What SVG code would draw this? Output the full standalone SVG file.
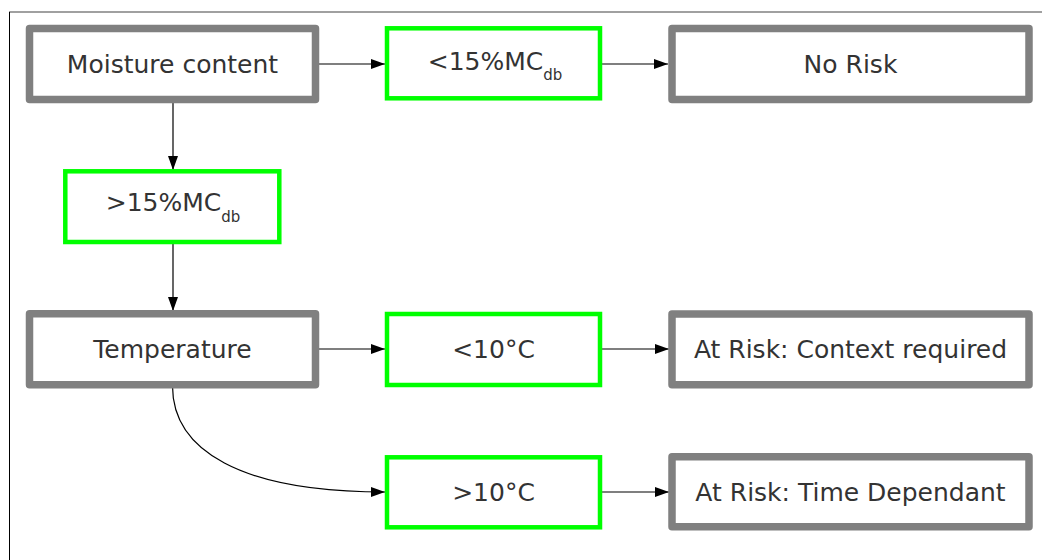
<svg xmlns="http://www.w3.org/2000/svg" width="1042" height="560" viewBox="0 0 1042 560">
<style>
.bg{fill:#ffffff}
.gray{fill:#ffffff;stroke:#808080;stroke-width:7.5;stroke-linejoin:round}
.green{fill:#ffffff;stroke:#00ff00;stroke-width:4.5}
.t{font-family:"DejaVu Sans",Verdana,sans-serif;font-size:25px;fill:#333333;text-anchor:middle}
.sub{font-size:15px}
.c{fill:none;stroke:#000000;stroke-width:1.2}
</style>
<defs>
<marker id="ah" markerUnits="userSpaceOnUse" markerWidth="14" markerHeight="11" refX="14" refY="5" orient="auto">
<path d="M0,0 L14,5 L0,10 z" fill="#000000"/>
</marker>
</defs>
<rect class="bg" x="0" y="0" width="1042" height="560"/>
<line x1="9" y1="12" x2="1042" y2="12" stroke="#808080" stroke-width="1.5"/>
<line x1="9.5" y1="12" x2="9.5" y2="560" stroke="#000000" stroke-width="1"/>
<g id="connectors">
<line class="c" x1="316" y1="64" x2="385" y2="64" marker-end="url(#ah)"/>
<line class="c" x1="602" y1="64" x2="668" y2="64" marker-end="url(#ah)"/>
<line class="c" x1="173" y1="100" x2="173" y2="170" marker-end="url(#ah)"/>
<line class="c" x1="173" y1="242" x2="173" y2="311" marker-end="url(#ah)"/>
<line class="c" x1="315" y1="349" x2="385" y2="349" marker-end="url(#ah)"/>
<line class="c" x1="601" y1="349" x2="669" y2="349" marker-end="url(#ah)"/>
<path class="c" d="M172.5,386 C172.5,450 240,492 385,492" marker-end="url(#ah)"/>
<line class="c" x1="601" y1="492" x2="669" y2="492" marker-end="url(#ah)"/>
</g>
<g id="moisture">
<rect class="gray" x="29.5" y="28.5" width="286" height="71"/>
<text class="t" x="172.5" y="73">Moisture content</text>
</g>
<g id="lt15">
<rect class="green" x="387" y="28.3" width="213" height="70"/>
<text class="t" x="495" y="69.5">&lt;15%MC<tspan class="sub" dy="10">db</tspan></text>
</g>
<g id="norisk">
<rect class="gray" x="672" y="28.5" width="357" height="71"/>
<text class="t" x="850.5" y="73">No Risk</text>
</g>
<g id="gt15">
<rect class="green" x="65.3" y="171.3" width="214" height="70.7"/>
<text class="t" x="173" y="210.5">&gt;15%MC<tspan class="sub" dy="11">db</tspan></text>
</g>
<g id="temperature">
<rect class="gray" x="29.5" y="313.8" width="286" height="71"/>
<text class="t" x="172.5" y="357.5">Temperature</text>
</g>
<g id="lt10">
<rect class="green" x="387" y="314" width="213" height="71"/>
<text class="t" x="493.5" y="358.3">&lt;10°C</text>
</g>
<g id="context">
<rect class="gray" x="672" y="314" width="357" height="70.7"/>
<text class="t" x="850.5" y="357.5">At Risk: Context required</text>
</g>
<g id="gt10">
<rect class="green" x="387" y="457.3" width="213" height="70"/>
<text class="t" x="493.5" y="501.3">&gt;10°C</text>
</g>
<g id="timedep">
<rect class="gray" x="672" y="456.8" width="357" height="70"/>
<text class="t" x="850.5" y="501">At Risk: Time Dependant</text>
</g>
</svg>
